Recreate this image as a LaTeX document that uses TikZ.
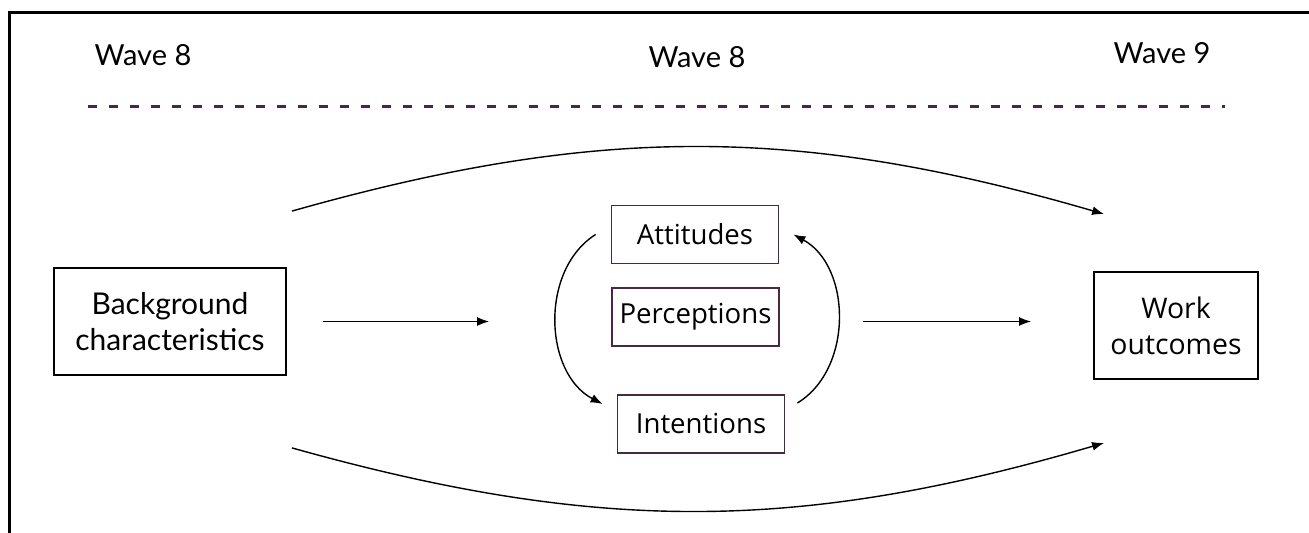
\documentclass[tikz,border=0pt]{standalone}
\usepackage{fontspec}
\setmainfont{Lato}
\newfontfamily\boxfont{Open Sans}
\usetikzlibrary{arrows.meta}
\definecolor{plum}{RGB}{72,40,72}
\tikzset{
	wave/.style={font=\fontsize{14.5}{18}\selectfont},
	timeline/.style={draw=plum, line width=1.5pt, dash pattern=on 4.7pt off 5.8pt},
	block/.style={draw=black, line width=0.9pt, inner sep=0pt, align=center,
		font=\fontsize{15}{18}\selectfont},
	stage/.style={block, draw=plum, minimum width=83.5pt, minimum height=29pt,
		font=\boxfont\fontsize{13.8}{18}\selectfont},
	link/.style={->, line width=0.7pt}
}

\begin{document}
\begin{tikzpicture}[x=0.5pt, y=-0.5pt, >={Latex[length=6pt,width=4.5pt]}]
	\useasboundingbox (0,0) rectangle (1309,533);
	\draw[line width=1.5pt] (9,533) -- (9,12.5) -- (1309,12.5);

	% time points
	\node[wave] (w1) at (143,55) {Wave 8};
	\node[wave] (w2) at (697,57) {Wave 8};
	\node[wave] (w3) at (1162,53) {Wave 9};
	\draw[timeline] (88,107) -- (1225,107);

	\node[block, minimum width=116pt, minimum height=53.5pt] (bg) at (170,321.5) {Background\\characteristics};
	\node[stage] (att) at (695,234.5) {Attitudes};
	\node[stage] (per) at (695.5,317) {Perceptions};
	\node[stage] (int) at (701,424) {Intentions};
	\node[block, minimum width=82pt, minimum height=53.5pt, font=\boxfont\fontsize{14.2}{18}\selectfont] (work) at (1176,325.5) {Work\\outcomes};

	\draw[link, shorten <=18pt, shorten >=61pt] (bg.east) -- (bg.east -| per.west);
	\draw[link, shorten <=41.5pt, shorten >=31pt] (bg.east -| per.east) -- (bg.east -| work.west);

	\draw[link] ([xshift=-7.5pt]att.west) to[bend right=60] ([shift={(-7pt,10pt)}]int.west);
	\draw[link] ([shift={(6pt,10.5pt)}]int.east) to[bend right=60] ([xshift=7pt]att.east);

	\draw[link] ([shift={(2.5pt,28pt)}]bg.north east) to[bend left=16] ([shift={(5.5pt,28.5pt)}]work.north west);
	\draw[link] ([shift={(2.5pt,-36pt)}]bg.south east) to[bend right=16] ([shift={(5.5pt,-31.5pt)}]work.south west);
\end{tikzpicture}
\end{document}
